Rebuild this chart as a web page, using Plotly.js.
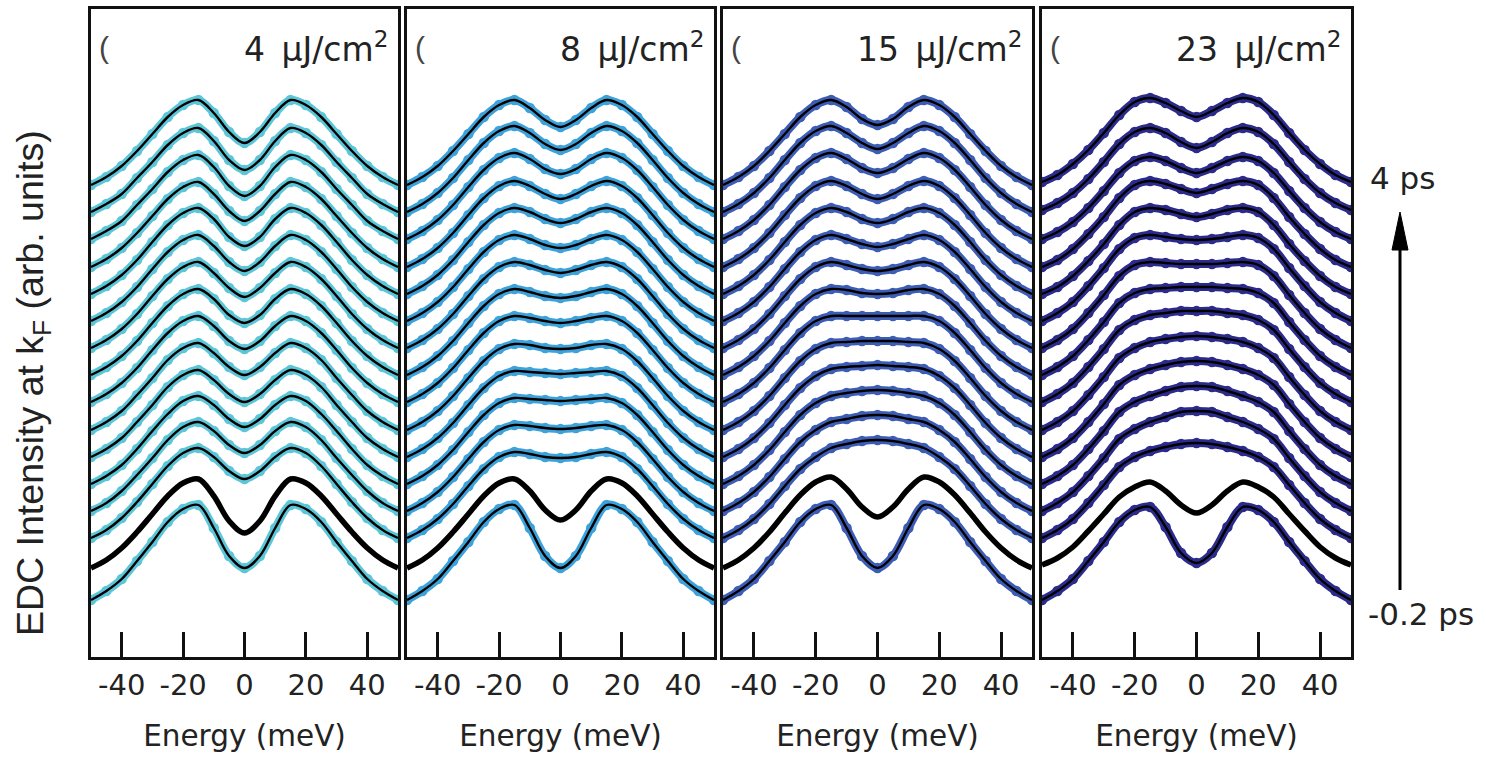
<!DOCTYPE html>
<html><head><meta charset="utf-8">
<script src="https://cdn.plot.ly/plotly-3.0.1.min.js"></script>
<style>html,body{margin:0;padding:0;background:#fff}#chart{width:1486px;height:760px}</style>
</head><body><div id="chart"></div>
<script>
// Energy grid (meV) for the symmetrized EDCs: values read at E >= 0, mirrored to E < 0
const energyHalf = [0, 5, 10, 15, 20, 25, 30, 35, 40, 45, 50];
const tickValues = [-40, -20, 0, 20, 40];
const fluenceLabels = ['4\u2002μJ/cm<sup>2</sup>', '8\u2002μJ/cm<sup>2</sup>', '15\u2002μJ/cm<sup>2</sup>', '23\u2002μJ/cm<sup>2</sup>'];
const dotColors = ['#5cc6d8', '#3ea2da', '#3d5db5', '#2b2b8c'];
const delayLabels = ['4 ps', '-0.2 ps'];

// Offset EDC intensity (arb. units), curves listed from -0.2 ps (bottom) to 4 ps (top);
// index 1 is the thick reference curve
const edcPanel1 = [
  [89, 101, 129, 152, 148, 135, 115, 96, 78, 66, 57],
  [124, 136, 161, 178, 174, 161, 143, 125, 109, 97, 89],
  [178, 186, 200, 209, 204, 191, 173, 155, 139, 127, 119],
  [204, 212, 226, 235, 230, 217, 199, 182, 166, 154, 146],
  [230, 238, 252, 261, 256, 243, 226, 208, 192, 181, 173],
  [255, 263, 277, 287, 282, 270, 252, 235, 219, 208, 200],
  [282, 290, 304, 314, 309, 297, 279, 262, 246, 235, 227],
  [308, 316, 331, 341, 336, 324, 307, 289, 274, 263, 255],
  [334, 342, 358, 368, 363, 351, 334, 316, 301, 290, 282],
  [360, 369, 384, 395, 390, 378, 361, 343, 328, 317, 309],
  [386, 395, 411, 422, 417, 405, 388, 370, 355, 344, 336],
  [411, 420, 438, 449, 444, 432, 415, 397, 382, 371, 363],
  [436, 446, 463, 475, 470, 458, 441, 424, 409, 398, 390],
  [461, 471, 490, 502, 497, 485, 468, 452, 436, 426, 418],
  [487, 497, 516, 529, 524, 512, 495, 479, 463, 453, 445],
  [514, 525, 544, 557, 552, 540, 523, 506, 491, 480, 472]
];
const edcPanel2 = [
  [89, 101, 129, 152, 148, 135, 115, 96, 78, 66, 57],
  [137, 147, 166, 178, 174, 161, 143, 125, 109, 97, 89],
  [199, 200, 203, 205, 200, 188, 171, 153, 138, 127, 119],
  [228, 229, 231, 232, 227, 215, 198, 180, 165, 154, 146],
  [256, 257, 258, 259, 254, 242, 225, 207, 192, 181, 173],
  [283, 284, 285, 286, 281, 269, 252, 234, 219, 208, 200],
  [308, 309, 312, 313, 308, 296, 279, 261, 246, 235, 227],
  [334, 336, 339, 341, 336, 324, 307, 289, 274, 263, 255],
  [359, 361, 365, 368, 363, 351, 334, 316, 301, 290, 282],
  [384, 387, 392, 395, 390, 378, 361, 343, 328, 317, 309],
  [409, 412, 418, 422, 417, 405, 388, 370, 355, 344, 336],
  [434, 438, 445, 449, 444, 432, 415, 397, 382, 371, 363],
  [458, 463, 471, 476, 471, 459, 442, 424, 409, 398, 390],
  [483, 488, 498, 504, 499, 487, 470, 452, 437, 426, 418],
  [507, 513, 524, 531, 526, 514, 497, 479, 464, 453, 445],
  [530, 537, 549, 557, 552, 540, 523, 506, 491, 480, 472]
];
const edcPanel3 = [
  [89, 101, 129, 152, 148, 135, 115, 96, 78, 66, 57],
  [140, 150, 168, 180, 175, 162, 144, 125, 109, 97, 89],
  [217, 216, 213, 209, 200, 188, 171, 153, 138, 127, 119],
  [242, 241, 238, 235, 227, 215, 198, 180, 165, 154, 146],
  [267, 266, 264, 261, 254, 242, 225, 207, 192, 181, 173],
  [292, 291, 290, 288, 281, 269, 252, 234, 219, 208, 200],
  [316, 316, 315, 314, 308, 296, 279, 261, 246, 235, 227],
  [341, 341, 341, 341, 336, 324, 307, 289, 274, 263, 255],
  [363, 364, 367, 368, 363, 351, 334, 316, 301, 290, 282],
  [386, 388, 392, 395, 390, 378, 361, 343, 328, 317, 309],
  [410, 413, 418, 422, 417, 405, 388, 370, 355, 344, 336],
  [434, 438, 445, 449, 444, 432, 415, 397, 382, 371, 363],
  [458, 463, 471, 476, 471, 459, 442, 424, 409, 398, 390],
  [484, 489, 498, 504, 499, 487, 470, 452, 437, 426, 418],
  [508, 514, 524, 531, 526, 514, 497, 479, 464, 453, 445],
  [532, 538, 550, 557, 552, 540, 523, 506, 491, 480, 472]
];
const edcPanel4 = [
  [94, 104, 130, 150, 147, 135, 115, 96, 78, 66, 57],
  [144, 152, 166, 175, 170, 160, 143, 126, 110, 99, 92],
  [214, 213, 210, 206, 200, 190, 172, 154, 138, 127, 119],
  [246, 245, 240, 235, 228, 218, 199, 181, 165, 154, 146],
  [271, 270, 266, 261, 255, 245, 226, 208, 192, 181, 173],
  [296, 295, 292, 288, 282, 272, 253, 235, 219, 208, 200],
  [321, 320, 318, 315, 309, 299, 280, 262, 246, 235, 227],
  [346, 346, 344, 342, 337, 327, 308, 290, 274, 263, 255],
  [370, 370, 369, 368, 364, 354, 335, 317, 301, 290, 282],
  [393, 393, 394, 395, 392, 381, 362, 344, 328, 317, 309],
  [417, 418, 420, 422, 419, 408, 389, 371, 355, 344, 336],
  [440, 443, 447, 449, 445, 432, 413, 396, 381, 370, 363],
  [464, 468, 473, 476, 472, 459, 440, 423, 408, 397, 390],
  [484, 489, 496, 500, 496, 484, 466, 449, 435, 425, 418],
  [509, 515, 524, 529, 525, 513, 495, 478, 464, 454, 447],
  [540, 546, 554, 559, 555, 542, 524, 507, 493, 482, 475]
];

const panels = [edcPanel1, edcPanel2, edcPanel3, edcPanel4];
const thickIndex = 1;
const FONT = 'DejaVu Sans, Verdana, sans-serif';
const FONT_Y = 'Liberation Sans, Arial, Helvetica, sans-serif';
const TXT = '#222';

const energyFull = energyHalf.slice(1).reverse().map(e => -e).concat(energyHalf);
const mirrorCurve = h => h.slice(1).reverse().concat(h);

const traces = [];
panels.forEach((curves, p) => {
  const xa = p === 0 ? 'x' : 'x' + (p + 1);
  const ya = p === 0 ? 'y' : 'y' + (p + 1);
  curves.forEach((half, i) => {
    const y = mirrorCurve(half);
    if (i === thickIndex) {
      traces.push({x: energyFull, y, xaxis: xa, yaxis: ya, mode: 'lines',
        line: {color: '#000', width: 5.5, shape: 'spline', smoothing: 1}, hoverinfo: 'skip'});
      return;
    }
    traces.push({x: energyFull, y, xaxis: xa, yaxis: ya, mode: 'lines+markers',
      line: {color: dotColors[p], width: 8, shape: 'spline', smoothing: 1},
      marker: {color: dotColors[p], size: 10.5}, hoverinfo: 'skip'});
    traces.push({x: energyFull, y, xaxis: xa, yaxis: ya, mode: 'lines',
      line: {color: '#000', width: 2.4, shape: 'spline', smoothing: 1}, hoverinfo: 'skip'});
  });
});

const L = 91, R = 135, T = 9, B = 103, W = 1486, H = 760;
const pw = W - L - R, ph = H - T - B;
const panelPx = [[91, 398], [407, 714], [723, 1032], [1042, 1351]];
const px2x = v => (v - L) / pw;
const px2y = v => (H - B - v) / ph;

const layout = {
  width: W, height: H, margin: {l: L, r: R, t: T, b: B},
  paper_bgcolor: '#fff', plot_bgcolor: '#fff', showlegend: false,
  font: {family: FONT, color: TXT, size: 30},
  annotations: [], shapes: []
};

panelPx.forEach((pp, p) => {
  const k = p === 0 ? '' : String(p + 1);
  layout['xaxis' + k] = {
    domain: [px2x(pp[0]), px2x(pp[1])], anchor: 'y' + k, range: [-50, 50],
    showline: true, linewidth: 3, linecolor: '#111', mirror: true,
    ticks: 'inside', ticklen: 25, tickwidth: 3, tickcolor: '#111',
    tickvals: tickValues, ticktext: tickValues.map(String),
    tickfont: {size: 29, family: FONT, color: TXT},
    showgrid: false, zeroline: false,
    title: {text: 'Energy (meV)', font: {size: 29.5, family: FONT, color: TXT}, standoff: 25}
  };
  layout['yaxis' + k] = {
    domain: [0, 1], anchor: 'x' + k, range: [0, 648],
    showline: true, linewidth: 3, linecolor: '#111', mirror: true,
    ticks: '', showticklabels: false, showgrid: false, zeroline: false
  };
  layout.annotations.push({
    xref: 'x' + k, yref: 'paper', x: 47.5, y: px2y(47), xanchor: 'right', yanchor: 'middle',
    text: fluenceLabels[p], showarrow: false, font: {size: 33, family: FONT, color: TXT}
  });
  layout.annotations.push({
    xref: 'x' + k, yref: 'paper', x: -48, y: px2y(47), xanchor: 'left', yanchor: 'middle',
    text: '(', showarrow: false, font: {size: 30, family: FONT_Y, color: '#444'}
  });
});

layout.annotations.push({
  xref: 'paper', yref: 'paper', x: px2x(33), y: px2y(383), xanchor: 'center', yanchor: 'middle',
  textangle: -90, text: 'EDC Intensity at k<sub>F</sub> (arb. units)', showarrow: false,
  font: {size: 37.5, family: FONT_Y, color: TXT}
});
layout.annotations.push({
  xref: 'paper', yref: 'paper', x: px2x(1368), y: px2y(178), xanchor: 'left', yanchor: 'middle',
  text: delayLabels[0], showarrow: false, font: {size: 31, family: FONT, color: TXT}
});
layout.annotations.push({
  xref: 'paper', yref: 'paper', x: px2x(1366), y: px2y(614), xanchor: 'left', yanchor: 'middle',
  text: delayLabels[1], showarrow: false, font: {size: 31, family: FONT, color: TXT}
});
layout.shapes.push({
  type: 'line', xref: 'paper', yref: 'paper', x0: px2x(1400), x1: px2x(1400),
  y0: px2y(590), y1: px2y(245), line: {color: '#000', width: 3}
});
layout.shapes.push({
  type: 'path', xref: 'paper', yref: 'paper', fillcolor: '#000', line: {color: '#000', width: 1},
  path: `M ${px2x(1392)} ${px2y(250)} L ${px2x(1408)} ${px2y(250)} L ${px2x(1400)} ${px2y(212)} Z`
});

Plotly.newPlot('chart', traces, layout, {staticPlot: true, displayModeBar: false});
</script>
</body></html>
